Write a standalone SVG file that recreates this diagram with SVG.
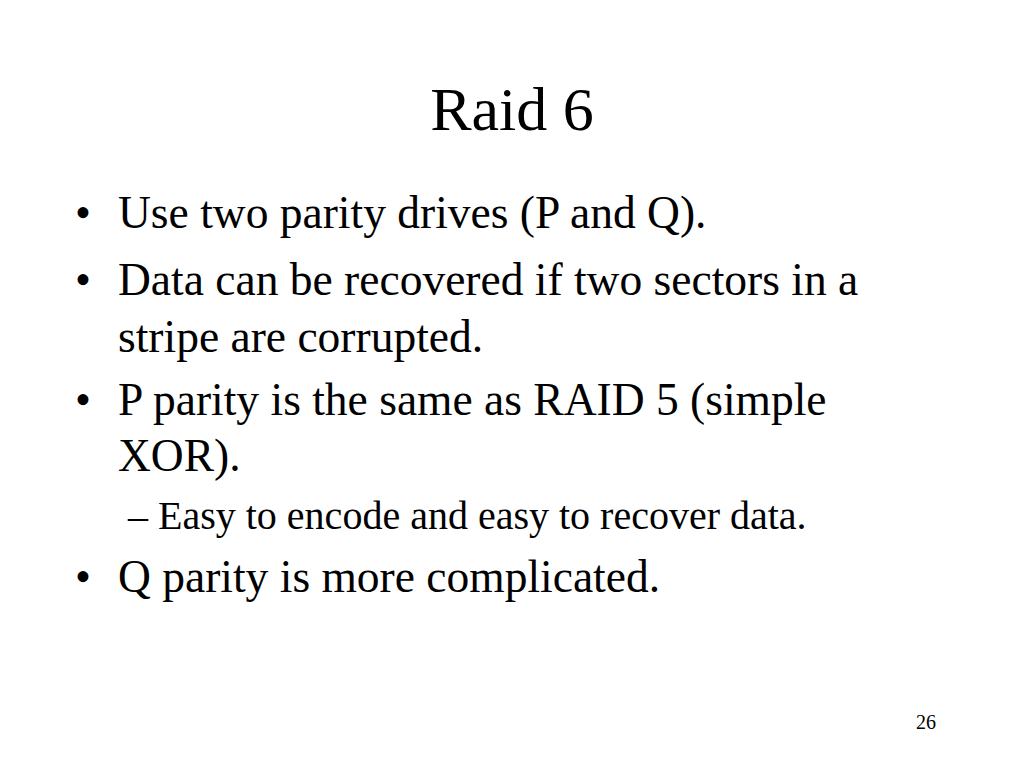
<svg xmlns="http://www.w3.org/2000/svg" width="1024" height="768" viewBox="0 0 1024 768">
<style>
text{font-family:"Liberation Serif","Times New Roman",serif;fill:#000}
.t{font-size:62px}
.b{font-size:45.5px}
.s{font-size:40px}
.n{font-size:20px}
</style>
<rect width="1024" height="768" fill="#fff"/>
<text class="t" x="512" y="130" text-anchor="middle">Raid 6</text>
<g class="b">
<text x="75" y="228">•</text><text x="118" y="228">Use two parity drives (P and Q).</text>
<text x="75" y="295">•</text><text x="118" y="295">Data can be recovered if two sectors in a</text>
<text x="118" y="352">stripe are corrupted.</text>
<text x="75" y="415">•</text><text x="118" y="415">P parity is the same as RAID 5 (simple</text>
<text x="118" y="471">XOR).</text>
<text x="75" y="592">•</text><text x="118" y="592">Q parity is more complicated.</text>
</g>
<text class="s" x="128" y="529">– Easy to encode and easy to recover data.</text>
<text class="n" x="916" y="729">26</text>
</svg>
